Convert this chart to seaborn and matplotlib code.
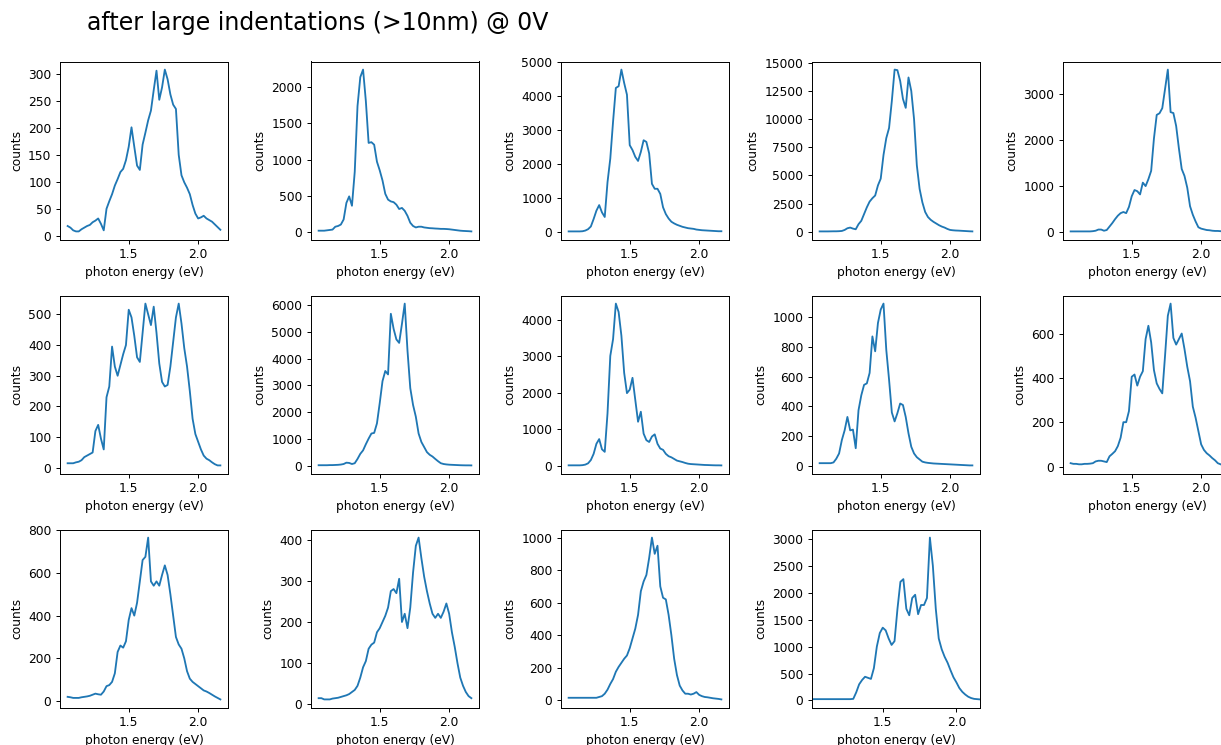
"""PL spectra after large indentations, 14 spots, recreated with seaborn."""

import matplotlib

matplotlib.use("Agg")
import matplotlib.pyplot as plt
from matplotlib.ticker import MultipleLocator
import seaborn as sns

TITLE = "after large indentations (>10nm) @ 0V"
XLABEL = "photon energy (eV)"
YLABEL = "counts"
LINE_COLOR = "#1f77b4"

# common energy grid (eV) for spectra 1-13
ENERGY = [
    1.06, 1.08, 1.10, 1.12, 1.14, 1.16, 1.18, 1.20, 1.22, 1.24,
    1.26, 1.28, 1.30, 1.32, 1.34, 1.36, 1.38, 1.40, 1.42, 1.44,
    1.46, 1.48, 1.50, 1.52, 1.54, 1.56, 1.58, 1.60, 1.62, 1.64,
    1.66, 1.68, 1.70, 1.72, 1.74, 1.76, 1.78, 1.80, 1.82, 1.84,
    1.86, 1.88, 1.90, 1.92, 1.94, 1.96, 1.98, 2.00, 2.02, 2.04,
    2.06, 2.08, 2.10, 2.12, 2.14, 2.16,
]
# spectrum 14 was taken over a slightly wider window
ENERGY_14 = [
    1.02, 1.04,
    1.06, 1.08, 1.10, 1.12, 1.14, 1.16, 1.18, 1.20, 1.22, 1.24,
    1.26, 1.28, 1.30, 1.32, 1.34, 1.36, 1.38, 1.40, 1.42, 1.44,
    1.46, 1.48, 1.50, 1.52, 1.54, 1.56, 1.58, 1.60, 1.62, 1.64,
    1.66, 1.68, 1.70, 1.72, 1.74, 1.76, 1.78, 1.80, 1.82, 1.84,
    1.86, 1.88, 1.90, 1.92, 1.94, 1.96, 1.98, 2.00, 2.02, 2.04,
    2.06, 2.08, 2.10, 2.12, 2.14, 2.16,
]

SPEC_01 = [18, 15, 10, 8, 8, 12, 15, 18, 20, 25,
           28, 32, 22, 10, 50, 64, 77, 93, 105, 118,
           124, 140, 165, 201, 165, 130, 122, 169, 191, 214,
           232, 270, 306, 252, 275, 308, 290, 262, 243, 235,
           150, 112, 99, 89, 77, 57, 41, 32, 34, 37,
           32, 29, 26, 21, 16, 11]
SPEC_02 = [15, 15, 15, 20, 25, 30, 70, 80, 100, 170,
           400, 490, 360, 830, 1740, 2140, 2245, 1810, 1230, 1240,
           1205, 970, 850, 710, 525, 445, 420, 410, 375, 315,
           330, 290, 220, 125, 80, 60, 70, 70, 60, 55,
           50, 48, 45, 43, 40, 40, 38, 35, 30, 25,
           20, 15, 12, 10, 8, 5]
SPEC_03 = [5, 5, 5, 5, 5, 10, 30, 70, 150, 370,
           615, 780, 565, 430, 1455, 2150, 3240, 4230, 4280, 4770,
           4375, 4030, 2545, 2400, 2200, 2080, 2345, 2690, 2640, 2300,
           1405, 1260, 1260, 1110, 715, 515, 385, 290, 240, 200,
           170, 140, 120, 100, 90, 80, 60, 50, 40, 35,
           30, 25, 20, 15, 10, 10]
SPEC_04 = [20, 20, 20, 20, 25, 30, 30, 40, 60, 150,
           300, 360, 270, 210, 660, 960, 1560, 2160, 2670, 2970,
           3210, 4110, 4710, 6810, 8310, 9210, 11610, 14400, 14350, 13400,
           11800, 11000, 13700, 12500, 10000, 5900, 3800, 2600, 1750, 1300,
           1050, 870, 720, 570, 450, 360, 240, 150, 120, 100,
           90, 75, 60, 45, 30, 20]
SPEC_05 = [20, 20, 20, 20, 20, 20, 20, 20, 25, 35,
           60, 60, 35, 50, 125, 200, 285, 360, 415, 440,
           415, 550, 780, 915, 890, 820, 1075, 1000, 1150, 1330,
           2030, 2540, 2575, 2685, 3100, 3520, 2600, 2580, 2300, 1810,
           1370, 1220, 965, 565, 380, 235, 110, 80, 65, 50,
           45, 35, 30, 30, 25, 20]
SPEC_06 = [15, 15, 15, 18, 20, 25, 35, 40, 45, 50,
           120, 140, 95, 60, 230, 265, 395, 330, 300, 335,
           370, 400, 515, 490, 430, 360, 345, 440, 535, 500,
           465, 525, 440, 340, 280, 265, 270, 330, 410, 490,
           535, 470, 390, 330, 250, 160, 110, 85, 60, 40,
           30, 25, 18, 12, 8, 8]
SPEC_07 = [15, 15, 15, 15, 20, 20, 25, 30, 40, 60,
           110, 100, 60, 90, 250, 440, 570, 800, 1010, 1200,
           1225, 1580, 2340, 3160, 3540, 3410, 5680, 5115, 4720, 4590,
           5300, 6060, 4300, 2900, 2270, 1830, 1200, 885, 695, 505,
           405, 340, 250, 165, 90, 60, 45, 35, 30, 25,
           20, 15, 12, 10, 10, 8]
SPEC_08 = [10, 10, 10, 10, 10, 15, 30, 65, 155, 325,
           600, 730, 450, 380, 1435, 3010, 3470, 4445, 4215, 3565,
           2545, 1990, 2085, 2410, 1805, 1205, 1480, 880, 700, 650,
           800, 860, 600, 470, 435, 325, 260, 230, 185, 140,
           120, 100, 75, 55, 45, 40, 35, 30, 25, 20,
           18, 15, 12, 10, 10, 8]
SPEC_09 = [20, 20, 20, 20, 20, 25, 50, 85, 175, 240,
           330, 240, 245, 120, 375, 475, 545, 555, 625, 870,
           770, 960, 1050, 1090, 780, 580, 360, 300, 355, 420,
           410, 330, 220, 130, 85, 60, 45, 30, 25, 22,
           20, 18, 17, 16, 15, 14, 13, 12, 11, 10,
           9, 8, 7, 6, 5, 5]
SPEC_10 = [15, 12, 12, 10, 10, 12, 12, 13, 15, 23,
           26, 26, 23, 20, 46, 57, 69, 92, 130, 200,
           200, 250, 405, 415, 365, 405, 430, 575, 635, 560,
           435, 375, 350, 330, 500, 680, 735, 580, 550, 575,
           600, 530, 450, 385, 270, 220, 160, 100, 75, 60,
           50, 38, 28, 15, 10, 5]
SPEC_11 = [20, 18, 15, 15, 15, 18, 20, 22, 25, 30,
           35, 32, 30, 45, 70, 75, 90, 130, 230, 260,
           250, 280, 380, 435, 400, 460, 560, 660, 675, 765,
           560, 540, 560, 540, 590, 635, 590, 500, 400, 300,
           265, 245, 200, 140, 105, 90, 80, 70, 60, 50,
           45, 38, 30, 22, 15, 8]
SPEC_12 = [15, 15, 12, 12, 12, 14, 15, 16, 18, 20,
           22, 25, 30, 35, 45, 65, 90, 105, 135, 145,
           150, 175, 185, 200, 215, 235, 275, 280, 270, 305,
           200, 220, 185, 235, 320, 385, 405, 355, 310, 275,
           245, 220, 210, 220, 210, 225, 245, 220, 175, 140,
           100, 65, 45, 30, 20, 15]
SPEC_13 = [15, 15, 15, 15, 15, 15, 15, 15, 15, 15,
           15, 20, 25, 40, 65, 100, 130, 175, 205, 230,
           255, 275, 320, 380, 440, 525, 670, 730, 770, 875,
           1000, 900, 950, 700, 630, 620, 525, 400, 255, 155,
           90, 60, 40, 40, 35, 40, 50, 33, 25, 20,
           18, 15, 12, 10, 8, 5]
SPEC_14 = [25, 25,
           25, 25, 25, 25, 25, 25, 25, 25, 25, 25,
           25, 25, 30, 150, 300, 380, 440, 420, 400, 600,
           1000, 1250, 1350, 1300, 1150, 1030, 1100, 1700, 2200, 2250,
           1700, 1580, 1900, 1960, 1600, 1770, 1770, 1900, 3020, 2500,
           1700, 1150, 950, 810, 700, 560, 430, 335, 230, 160,
           110, 70, 45, 30, 25, 20]

SPECTRA = [
    (ENERGY, SPEC_01), (ENERGY, SPEC_02), (ENERGY, SPEC_03), (ENERGY, SPEC_04),
    (ENERGY, SPEC_05), (ENERGY, SPEC_06), (ENERGY, SPEC_07), (ENERGY, SPEC_08),
    (ENERGY, SPEC_09), (ENERGY, SPEC_10), (ENERGY, SPEC_11), (ENERGY, SPEC_12),
    (ENERGY, SPEC_13), (ENERGY_14, SPEC_14),
]
# y tick spacing of each panel, as in the reference
Y_TICK_STEP = [50, 500, 1000, 2500, 1000, 100, 1000, 1000, 200, 200,
               200, 100, 200, 500]

scale = 0.88
plt.rcParams.update({
    "font.size": 10 * scale,
    "axes.linewidth": 0.8 * scale,
    "xtick.major.size": 3.5 * scale,
    "ytick.major.size": 3.5 * scale,
    "xtick.major.width": 0.8 * scale,
    "ytick.major.width": 0.8 * scale,
    "xtick.major.pad": 3.5 * scale,
    "ytick.major.pad": 3.5 * scale,
    "axes.labelpad": 4 * scale,
})

W, H = 1221, 745
fig = plt.figure(figsize=(W / 100, H / 100), dpi=100)

col_left = [60, 311, 561, 812, 1063]
row_top = [61.5, 295.5, 529.5]
ax_w, ax_h = 168, 178

for i, (energy, counts) in enumerate(SPECTRA):
    r, c = divmod(i, 5)
    ax = fig.add_axes([
        col_left[c] / W,
        1 - (row_top[r] + ax_h) / H,
        ax_w / W,
        ax_h / H,
    ])
    sns.lineplot(x=energy, y=counts, ax=ax, color=LINE_COLOR, linewidth=1.5 * scale)
    if energy is ENERGY_14:
        ax.margins(x=0)
    ax.yaxis.set_major_locator(MultipleLocator(Y_TICK_STEP[i]))
    ax.xaxis.set_major_locator(MultipleLocator(0.5))
    ax.set_xlabel(XLABEL)
    ax.set_ylabel(YLABEL)

fig.text(87 / W, 1 - 23 / H, TITLE, fontsize=17, ha="left", va="center")

fig.savefig("out.png", dpi=100)
